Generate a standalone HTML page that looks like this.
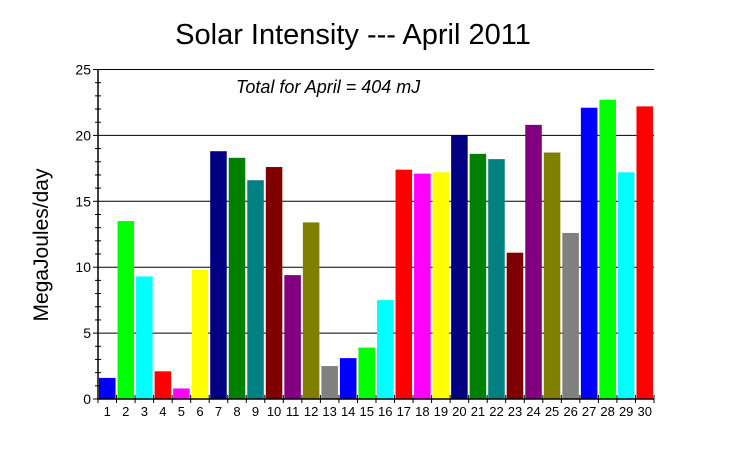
<!DOCTYPE html>
<html><head><meta charset="utf-8"><style>
body{margin:0;background:#fff}
svg{display:block;font-family:"Liberation Sans",sans-serif}
</style></head><body>
<svg id="c" width="735" height="449">
<text x="353" y="44" text-anchor="middle" font-size="29">Solar Intensity --- April 2011</text>
<text x="236" y="93" font-size="18" font-style="italic">Total for April = 404 mJ</text>
<text transform="translate(48,245) rotate(-90)" text-anchor="middle" font-size="21">MegaJoules/day</text>
<g id="grid"></g><g id="bars"></g><g id="axes"></g>
</svg>
<script>
const days=[1,2,3,4,5,6,7,8,9,10,11,12,13,14,15,16,17,18,19,20,21,22,23,24,25,26,27,28,29,30];
const values=[1.6,13.5,9.3,2.1,0.8,9.8,18.8,18.3,16.6,17.6,9.4,13.4,2.5,3.1,3.9,7.5,17.4,17.1,17.2,20.0,18.6,18.2,11.1,20.8,18.7,12.6,22.1,22.7,17.2,22.2];
const yTicks=[0,5,10,15,20,25];
const palette=["#0000ff","#00ff00","#00ffff","#ff0000","#ff00ff","#ffff00","#000080","#008000","#008080","#800000","#800080","#808000","#808080"];
const X0=98,X1=654,Y0=399,Y1=69.5,YMAX=25;
const slot=(X1-X0)/days.length;
const yScale=v=>Y0-(v/YMAX)*(Y0-Y1);
const xs=i=>X0+i*slot;
const NS="http://www.w3.org/2000/svg";
function mk(t,a,p){const e=document.createElementNS(NS,t);for(const k in a)e.setAttribute(k,a[k]);p.appendChild(e);return e;}
const gridG=document.getElementById('grid'),barsG=document.getElementById('bars'),axesG=document.getElementById('axes');
yTicks.forEach(t=>{
  if(t>0){const l=mk('line',{x1:X0,x2:X1,y1:yScale(t),y2:yScale(t),stroke:'#000','stroke-width':1},gridG);
  
  }
  const tk=mk('line',{x1:X0-5,x2:X0,y1:yScale(t),y2:yScale(t),stroke:'#000'},axesG);
  
  
  const lb=mk('text',{x:X0-7,y:yScale(t)+5,'text-anchor':'end','font-size':14},axesG);
  lb.textContent=t;
  
  
});
for(let v=1;v<YMAX;v++){if(v%5===0)continue;
  const m=mk('line',{x1:X0-3,x2:X0+3,y1:yScale(v),y2:yScale(v),stroke:'#000'},axesG);
  
  }
days.forEach((d,i)=>{
  const r=mk('rect',{x:xs(i)+1,width:slot-2,y:yScale(values[i]),height:Y0-yScale(values[i]),fill:palette[i%palette.length]},barsG);
  
  
  const lb=mk('text',{x:xs(i)+slot/2,y:416,'text-anchor':'middle','font-size':13},axesG);
  lb.textContent=d;
  
  
});
for(let i=0;i<=days.length;i++){
  const t=mk('line',{x1:xs(i),x2:xs(i),y1:Y0-4,y2:Y0+4,stroke:'#000'},axesG);
  
  }
const yAxisLine=mk('line',{x1:X0,x2:X0,y1:Y1,y2:Y0,stroke:'#000','stroke-width':1.5},axesG);


const xAxisLine=mk('line',{x1:X0,x2:X1,y1:Y0,y2:Y0,stroke:'#000','stroke-width':1.5},axesG);


const topLine=mk('line',{x1:X0,x2:X1,y1:Y1,y2:Y1,stroke:'#000'},axesG);


</script>
</body></html>
